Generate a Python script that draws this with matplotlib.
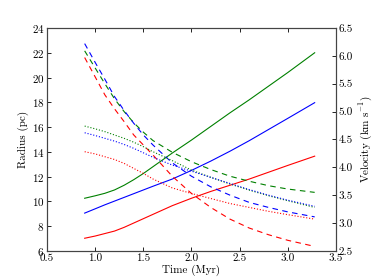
import matplotlib
matplotlib.use("Agg")
import matplotlib.pyplot as plt
import numpy as np

plt.rcParams["font.family"] = "serif"
plt.rcParams["font.serif"] = ["cmr10"]
plt.rcParams["mathtext.fontset"] = "cm"
plt.rcParams["axes.formatter.use_mathtext"] = True
plt.rcParams["axes.unicode_minus"] = False

# time grid (Myr)
time = [0.89, 1.0, 1.1, 1.2, 1.3, 1.4, 1.5, 1.6, 1.8, 2.0, 2.2, 2.4, 2.6, 2.8, 3.0, 3.28]

# radius (pc), left axis
radius_green = [10.25, 10.45, 10.65, 10.92, 11.3, 11.75, 12.25, 12.8, 13.9, 14.95, 16.05, 17.15, 18.2, 19.3, 20.4, 22.0]
radius_blue = [9.05, 9.4, 9.72, 10.02, 10.32, 10.62, 10.92, 11.22, 11.8, 12.5, 13.25, 14.05, 14.9, 15.8, 16.7, 17.97]
radius_red = [7.02, 7.2, 7.4, 7.6, 7.9, 8.25, 8.6, 8.95, 9.65, 10.25, 10.8, 11.3, 11.8, 12.35, 12.9, 13.65]

# velocity (km/s), right axis - dashed
vel_green = [6.09, 5.78, 5.5, 5.23, 5.0, 4.8, 4.63, 4.48, 4.27, 4.1, 3.96, 3.84, 3.75, 3.67, 3.61, 3.55]
vel_blue = [6.22, 5.88, 5.58, 5.27, 5.02, 4.79, 4.58, 4.40, 4.08, 3.84, 3.65, 3.50, 3.37, 3.28, 3.2, 3.11]
vel_red = [5.97, 5.62, 5.3, 5.05, 4.82, 4.58, 4.4, 4.22, 3.84, 3.53, 3.28, 3.07, 2.91, 2.79, 2.69, 2.58]

# velocity (km/s), right axis - dotted
vel2_green = [4.74, 4.69, 4.64, 4.58, 4.52, 4.45, 4.37, 4.28, 4.12, 3.95, 3.82, 3.7, 3.59, 3.49, 3.4, 3.28]
vel2_blue = [4.62, 4.57, 4.52, 4.47, 4.41, 4.34, 4.26, 4.18, 4.04, 3.93, 3.82, 3.71, 3.6, 3.5, 3.41, 3.30]
vel2_red = [4.28, 4.24, 4.19, 4.14, 4.07, 3.98, 3.89, 3.79, 3.63, 3.53, 3.44, 3.35, 3.28, 3.21, 3.15, 3.07]

fig = plt.figure(figsize=(3.74, 2.8), dpi=100)
ax = fig.add_axes([0.126, 0.104, 0.772, 0.796])
ax2 = ax.twinx()

lw = 0.8
ax.plot(time, radius_green, color="g", lw=lw)
ax.plot(time, radius_blue, color="b", lw=lw)
ax.plot(time, radius_red, color="r", lw=lw)

ax2.plot(time, vel_green, color="g", lw=lw, ls=(0, (5, 4)))
ax2.plot(time, vel_blue, color="b", lw=lw, ls=(0, (5, 4)))
ax2.plot(time, vel_red, color="r", lw=lw, ls=(0, (5, 4)))

ax2.plot(time, vel2_green, color="g", lw=lw, ls=":")
ax2.plot(time, vel2_blue, color="b", lw=lw, ls=":")
ax2.plot(time, vel2_red, color="r", lw=lw, ls=":")

ax.set_xlim(0.5, 3.5)
ax.set_ylim(6, 24)
ax2.set_ylim(2.5, 6.5)
ax.set_xticks(np.arange(0.5, 3.51, 0.5))
ax.set_yticks(np.arange(6, 24.1, 2))
ax2.set_yticks(np.arange(2.5, 6.51, 0.5))
ax.set_xticklabels(["%.1f" % v for v in np.arange(0.5, 3.51, 0.5)])
ax2.set_yticklabels(["%.1f" % v for v in np.arange(2.5, 6.51, 0.5)])

ax.set_xlabel("Time (Myr)", fontsize=8, labelpad=1)
ax.set_ylabel("Radius (pc)", fontsize=8, labelpad=2)
ax2.set_ylabel("Velocity (km s$^{-1}$)", fontsize=8, labelpad=3)

ax.tick_params(direction="in", top=True, labelsize=8, length=3, width=0.6, pad=2)
ax2.tick_params(direction="in", labelsize=8, length=3, width=0.6, pad=2)
for a in (ax, ax2):
    for s in a.spines.values():
        s.set_linewidth(0.8)
        s.set_color("#444444")

fig.savefig("out.png", dpi=100)
